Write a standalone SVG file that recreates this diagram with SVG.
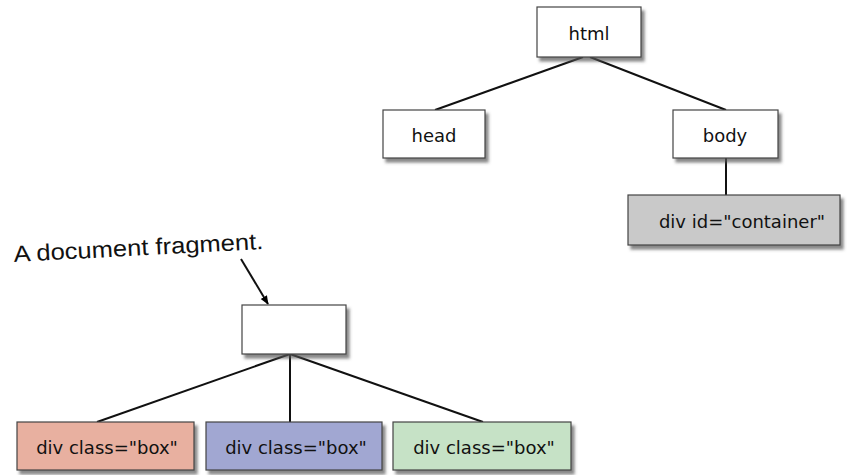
<svg xmlns="http://www.w3.org/2000/svg" width="847" height="475" viewBox="0 0 847 475">
  <defs>
    <filter id="shadow" x="-10%" y="-10%" width="130%" height="140%">
      <feDropShadow dx="3" dy="4" stdDeviation="1.6" flood-color="#555" flood-opacity="0.7"/>
    </filter>
    <marker id="arrow" viewBox="0 0 10 10" refX="9" refY="5" markerWidth="9" markerHeight="9" orient="auto" markerUnits="userSpaceOnUse">
      <path d="M0,1 L10,5 L0,9 Z" fill="#000"/>
    </marker>
  </defs>
  <style>
    .box { stroke: #444; stroke-width: 1.2; filter: url(#shadow); }
    .label { font-family: "DejaVu Sans", "Liberation Sans", sans-serif; font-size: 18px; fill: #111; text-anchor: middle; dominant-baseline: central; }
    .edge { stroke: #111; stroke-width: 2; fill: none; }
    .note { font-family: "Liberation Sans", "DejaVu Sans", sans-serif; font-size: 23px; fill: #111; }
  </style>
  <rect width="847" height="475" fill="#fff"/>

  <!-- tree edges and the pointer arrow -->
  <g id="connectors">
    <line class="edge" x1="583" y1="57" x2="435" y2="110"/>
    <line class="edge" x1="590" y1="57" x2="726" y2="110"/>
    <line class="edge" x1="726" y1="158" x2="726" y2="195"/>
    <line class="edge" x1="290" y1="354" x2="97" y2="422"/>
    <line class="edge" x1="290" y1="354" x2="290" y2="422"/>
    <line class="edge" x1="290" y1="354" x2="483" y2="422"/>
    <line class="edge" x1="241" y1="259" x2="268" y2="304" marker-end="url(#arrow)"/>
  </g>

  <g id="html">
    <rect class="box" x="537" y="7" width="104" height="50" fill="#fff"/>
    <text class="label" x="589" y="33">html</text>
  </g>
  <g id="head">
    <rect class="box" x="383" y="110" width="102" height="48" fill="#fff"/>
    <text class="label" x="434" y="135">head</text>
  </g>
  <g id="body">
    <rect class="box" x="673" y="110" width="105" height="48" fill="#fff"/>
    <text class="label" x="725" y="135">body</text>
  </g>
  <g id="container">
    <rect class="box" x="628" y="195" width="212" height="50" fill="#c9c9c9"/>
    <text class="label" x="742" y="221">div id="container"</text>
  </g>

  <g id="note">
    <text class="note" x="14" y="262" transform="rotate(-3 14 262)" textLength="250" lengthAdjust="spacingAndGlyphs">A document fragment.</text>
  </g>
  <g id="fragment">
    <rect class="box" x="242" y="305" width="104" height="49" fill="#fff"/>
  </g>
  <g id="box-red">
    <rect class="box" x="17" y="422" width="177" height="48" fill="#e8b0a0"/>
    <text class="label" x="107" y="447">div class="box"</text>
  </g>
  <g id="box-blue">
    <rect class="box" x="206" y="422" width="176" height="48" fill="#a1a7d2"/>
    <text class="label" x="296" y="447">div class="box"</text>
  </g>
  <g id="box-green">
    <rect class="box" x="393" y="422" width="178" height="48" fill="#c6e2c6"/>
    <text class="label" x="484" y="447">div class="box"</text>
  </g>
</svg>
